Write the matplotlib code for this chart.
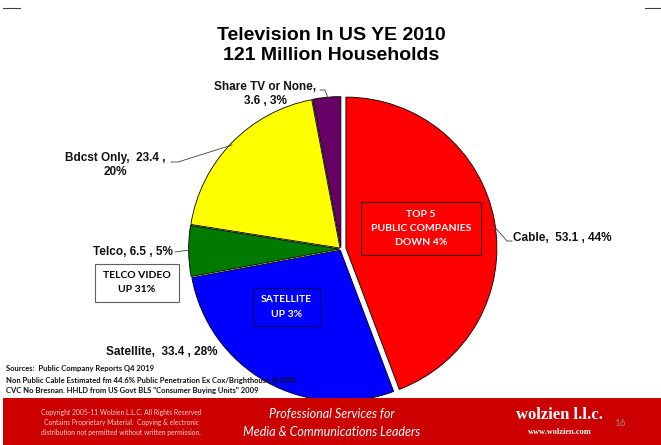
import matplotlib
matplotlib.use("Agg")
import matplotlib.pyplot as plt
from matplotlib.patches import Rectangle

# Households by TV source, millions (year end 2010)
categories = ["Cable", "Satellite", "Telco", "Bdcst Only", "Share TV or None"]
households = [53.1, 33.4, 6.5, 23.4, 3.6]
shares = [44, 28, 5, 20, 3]
colors = ["#FF0000", "#0000FF", "#007A00", "#FFFF00", "#660066"]

title_lines = ["Television In US YE 2010", "121 Million Households"]
sources = [
    "Sources:  Public Company Reports Q4 2019",
    "Non Public Cable Estimated fm 44.6% Public Penetration Ex Cox/Brighthouse @ 50%,",
    "CVC No Bresnan. HHLD from US Govt BLS \"Consumer Buying Units\" 2009",
]
copyright_lines = [
    "Copyright 2005-11 Wolzien L.L.C. All Rights Reserved",
    "Contains Proprietary Material.  Copying & electronic",
    "distribution not permitted without written permission.",
]

W, H = 661, 445
CAL = ["Lato", "DejaVu Sans"]
ARIAL = ["Liberation Sans", "DejaVu Sans"]
SERIF = ["Liberation Serif", "DejaVu Serif"]

RADIUS = 151
# pie offsets are given in data units, so scale the fractions by the radius
explode = [f * RADIUS for f in (0.033, 0.009, 0.009, 0.009, 0.009)]


def Y(y):
    # slide coordinates are measured from the top
    return H - y


fig = plt.figure(figsize=(W / 100, H / 100), dpi=100)
ax = fig.add_axes([0, 0, 1, 1])

ax.pie(households, colors=colors, explode=explode, startangle=90,
       counterclock=False, center=(341, Y(249)), radius=RADIUS,
       wedgeprops=dict(edgecolor="black", linewidth=0.6))
ax.set_xlim(0, W)
ax.set_ylim(0, H)
ax.set_aspect("equal")
ax.axis("off")

# title
for i, line in enumerate(title_lines):
    ax.text(331, Y(35 + i * 20), line, ha="center", va="center",
            fontsize=14, fontweight="bold", family=ARIAL)

# corner marks
ax.plot([3, 20], [Y(8), Y(8)], color="#404040", lw=0.8)
ax.plot([645, 661], [Y(8), Y(8)], color="#404040", lw=0.8)

# slice labels
lbl = dict(fontsize=8.5, fontweight="bold", family=ARIAL, color="#111111")
cable, sat, telco, bdcst, share = range(5)
ax.text(513, Y(238), f"{categories[cable]},  {households[cable]} , {shares[cable]}%",
        ha="left", va="center", **lbl)
ax.text(218, Y(352), f"{categories[sat]},  {households[sat]} , {shares[sat]}%",
        ha="right", va="center", **lbl)
ax.text(173, Y(252), f"{categories[telco]}, {households[telco]} , {shares[telco]}%",
        ha="right", va="center", **lbl)
ax.text(115, Y(165), f"{categories[bdcst]},  {households[bdcst]} ,\n{shares[bdcst]}%",
        ha="center", va="center", linespacing=1.15, **lbl)
ax.text(265, Y(94), f"{categories[share]},\n{households[share]} , {shares[share]}%",
        ha="center", va="center", linespacing=1.15, **lbl)

# leader lines
lead = dict(color="#404040", lw=0.6)
ax.plot([493, 507, 512], [Y(225), Y(241), Y(241)], **lead)
ax.plot([175, 190], [Y(252), Y(250)], **lead)
ax.plot([171, 178, 232], [Y(162), Y(162), Y(145)], **lead)
ax.plot([320, 325, 328], [Y(90), Y(90), Y(98)], **lead)

# callout boxes
boxes = [
    ((361, 202, 120, 53), "#FF0000", "#400000", ["TOP 5", "PUBLIC COMPANIES", "DOWN 4%"], "white", 14),
    ((253, 288, 67, 38), "#0000FF", "#000060", ["SATELLITE", "UP 3%"], "white", 15),
    ((95, 264, 84, 38), "white", "#606060", ["TELCO VIDEO", "UP 31%"], "black", 14),
]
for (x, y, w, h), fc, ec, lines, tc, step in boxes:
    ax.add_patch(Rectangle((x, Y(y + h)), w, h, facecolor=fc, edgecolor=ec,
                           lw=0.8, zorder=3))
    top = y + h / 2 - step * (len(lines) - 1) / 2
    for i, line in enumerate(lines):
        ax.text(x + w / 2, Y(top + i * step), line, ha="center", va="center",
                fontsize=7.5, fontweight="bold", family=CAL, color=tc, zorder=4)

# sources
for i, line in enumerate(sources):
    ax.text(6, Y(369 + i * 11), line, ha="left", va="center",
            fontsize=5.5, fontweight="bold", family=CAL, color="#111111", zorder=4)

# footer band
ax.add_patch(Rectangle((3, 0), W - 3, H - 398, facecolor="#CC0000",
                       edgecolor="none", zorder=5))
for i, line in enumerate(copyright_lines):
    ax.text(121, Y(413 + i * 9.5), line, ha="center", va="center",
            fontsize=4.9, family=CAL, color="#F6D0D0", zorder=6)
ax.text(332, Y(414), "Professional Services for", ha="center", va="center",
        fontsize=9, style="italic", family=CAL, color="white", zorder=6)
ax.text(332, Y(432), "Media & Communications Leaders", ha="center", va="center",
        fontsize=9, style="italic", family=CAL, color="white", zorder=6)
ax.text(560, Y(415), "wolzien l.l.c.", ha="center", va="center",
        fontsize=12, fontweight="bold", family=SERIF, color="white", zorder=6)
ax.text(560, Y(432), "www.wolzien.com", ha="center", va="center",
        fontsize=6, fontweight="bold", family=SERIF, color="white", zorder=6)
ax.text(620, Y(424), "16", ha="center", va="center",
        fontsize=7, family=CAL, color="#B08080", zorder=6)

fig.savefig("out.png", dpi=100)
